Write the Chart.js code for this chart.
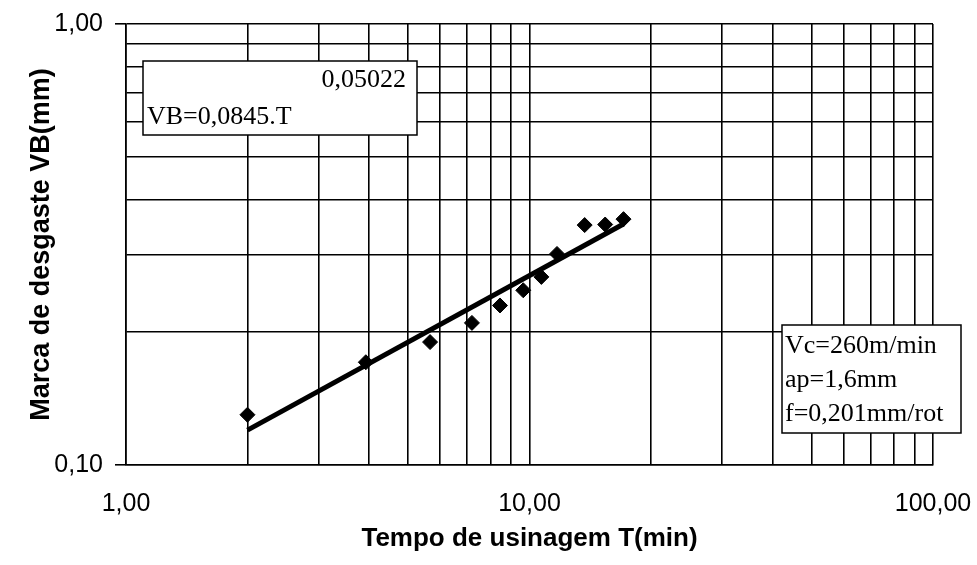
<!DOCTYPE html>
<html lang="pt">
<head>
  <meta charset="UTF-8">
  <title>Marca de desgaste VB x Tempo de usinagem</title>
  <script src="https://cdn.jsdelivr.net/npm/chart.js"></script>
  <style>
    html, body { margin: 0; padding: 0; background: #fff; }
    #wrap { width: 977px; height: 565px; }
  </style>
</head>
<body>
  <div id="wrap"><canvas id="vbChart" width="977" height="565"></canvas></div>

  <script>
    // measured points (T in min, VB in mm)
    const tempo = [2.0, 3.93, 5.67, 7.2, 8.45, 9.65, 10.7, 11.7, 13.7, 15.4, 17.1];
    const desgaste = [0.130, 0.171, 0.190, 0.210, 0.230, 0.249, 0.267, 0.301, 0.350, 0.351, 0.361];

    // power trendline, end points
    const trendT = [2.0, 17.1];
    const trendVB = [0.120, 0.352];

    // grid lines and labelled ticks
    const xGrid = [1, 2, 3, 4, 5, 6, 7, 8, 9, 10, 20, 30, 40, 50, 60, 70, 80, 90, 100];
    const xTickValues = [1, 10, 100];
    const xTickLabels = ['1,00', '10,00', '100,00'];
    const yGrid = [0.1, 0.2, 0.3, 0.4, 0.5, 0.6, 0.7, 0.8, 0.9, 1];
    const yTickValues = [0.1, 1];
    const yTickLabels = ['0,10', '1,00'];

    const eqLines = ['0,05022', 'VB=0,0845.T'];
    const condLines = ['Vc=260m/min', 'ap=1,6mm', 'f=0,201mm/rot'];

    Chart.defaults.color = '#000';
    Chart.defaults.font.family = '"Liberation Sans", Arial, sans-serif';

    const labelFor = (vals, labels) => v => {
      const i = vals.indexOf(v);
      return i >= 0 ? labels[i] : '';
    };

    // text boxes drawn on top of the plot
    const boxes = {
      id: 'boxes',
      afterDraw(chart) {
        const ctx = chart.ctx;
        ctx.save();
        ctx.font = '26px "Liberation Serif", "Times New Roman", serif';
        ctx.lineWidth = 1.5;
        ctx.strokeStyle = '#000';
        ctx.fillStyle = '#fff';

        ctx.fillRect(143, 61, 274, 74);
        ctx.strokeRect(143, 61, 274, 74);
        ctx.fillRect(782, 325, 179, 108);
        ctx.strokeRect(782, 325, 179, 108);

        ctx.fillStyle = '#000';
        ctx.textBaseline = 'alphabetic';
        ctx.textAlign = 'right';
        ctx.fillText(eqLines[0], 406, 87);
        ctx.textAlign = 'left';
        ctx.fillText(eqLines[1], 147, 124);

        condLines.forEach((t, i) => ctx.fillText(t, 785, 353 + i * 34));
        ctx.restore();
      }
    };

    new Chart(document.getElementById('vbChart'), {
      type: 'scatter',
      data: {
        datasets: [
          {
            label: 'VB',
            data: tempo.map((t, i) => ({ x: t, y: desgaste[i] })),
            pointStyle: 'rectRot',
            pointRadius: 7.5,
            backgroundColor: '#000',
            borderColor: '#000',
            borderWidth: 1
          },
          {
            label: 'tendência',
            data: trendT.map((t, i) => ({ x: t, y: trendVB[i] })),
            showLine: true,
            pointRadius: 0,
            borderColor: '#000',
            borderWidth: 5
          }
        ]
      },
      options: {
        responsive: false,
        animation: false,
        layout: { padding: { left: 0, right: 44, top: 24, bottom: 0 } },
        plugins: { legend: { display: false }, tooltip: { enabled: false } },
        scales: {
          x: {
            type: 'logarithmic',
            min: 1,
            max: 100,
            afterBuildTicks: s => { s.ticks = xGrid.map(v => ({ value: v })); },
            afterFit: s => { s.height = 100; s.paddingLeft = 0; s.paddingRight = 0; },
            ticks: {
              autoSkip: false,
              maxRotation: 0,
              padding: 24,
              font: { size: 25 },
              callback: labelFor(xTickValues, xTickLabels)
            },
            grid: { color: '#000', lineWidth: 1.6, drawTicks: false },
            border: { color: '#000', width: 1.6 },
            title: {
              display: true,
              text: 'Tempo de usinagem T(min)',
              font: { size: 26, weight: 'bold' },
              padding: { top: 0, bottom: 11 }
            }
          },
          y: {
            type: 'logarithmic',
            min: 0.1,
            max: 1,
            afterBuildTicks: s => { s.ticks = yGrid.map(v => ({ value: v })); },
            afterFit: s => { s.width = 126; s.paddingTop = 0; s.paddingBottom = 0; },
            ticks: {
              autoSkip: false,
              padding: 12,
              font: { size: 25 },
              callback: labelFor(yTickValues, yTickLabels)
            },
            grid: {
              color: '#000',
              lineWidth: 1.6,
              tickLength: 11,
              tickColor: c => yTickValues.includes(c.tick && c.tick.value) ? '#000' : 'rgba(0,0,0,0)'
            },
            border: { color: '#000', width: 1.6 },
            title: {
              display: true,
              text: 'Marca de desgaste VB(mm)',
              font: { size: 27, weight: 'bold' },
              padding: { top: 25, bottom: 0 }
            }
          }
        }
      },
      plugins: [boxes]
    });
  </script>
</body>
</html>
